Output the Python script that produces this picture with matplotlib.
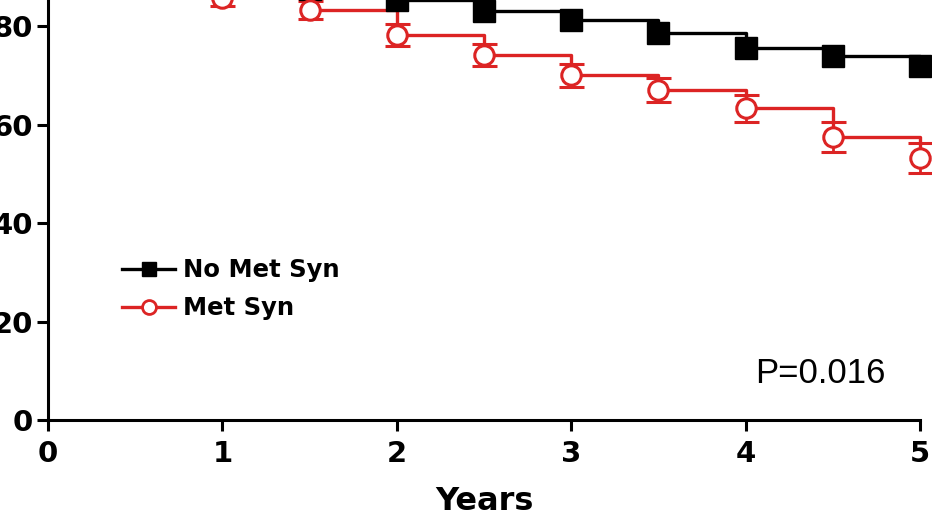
import matplotlib
matplotlib.use("Agg")
import matplotlib.pyplot as plt

# survival (%), every half year
times = [0, 0.5, 1, 1.5, 2, 2.5, 3, 3.5, 4, 4.5, 5]
no_met_syn = [100, 95, 90, 87.5, 85.2, 83.1, 81.2, 78.6, 75.6, 74.0, 71.9]
no_met_err = [0, 0.6, 0.8, 1.0, 1.2, 1.2, 1.3, 1.4, 1.5, 1.6, 1.7]
met_syn = [100, 94, 85.6, 83.2, 78.2, 74.1, 70.0, 67.0, 63.3, 57.5, 53.2]
met_err = [0, 1.2, 1.6, 1.8, 2.2, 2.2, 2.3, 2.5, 2.7, 3.0, 3.1]

x_ticks = [0, 1, 2, 3, 4, 5]
y_ticks = [0, 20, 40, 60, 80, 100]

RED = "#dc2424"

fig = plt.figure(figsize=(9.32, 5.11), dpi=100)
# axes runs past the top edge: the reference is cropped there
ax = fig.add_axes([48 / 932, 91 / 511, 872 / 932, 492.5 / 511])

# curves
ax.step(times, no_met_syn, where="post", color="black", lw=2.4, clip_on=False, zorder=3)
ax.step(times, met_syn, where="post", color=RED, lw=2.4, clip_on=False, zorder=2)

ax.errorbar(times, no_met_syn, yerr=no_met_err, fmt="s", color="black", ms=16,
            elinewidth=2, capsize=8, capthick=2, clip_on=False, zorder=4,
            label="No Met Syn")
ax.errorbar(times, met_syn, yerr=met_err, fmt="o", color=RED, mfc="white", mec=RED,
            ms=14, mew=2.2, elinewidth=2, capsize=9, capthick=2.2, clip_on=False,
            zorder=4, label="Met Syn")

# legend handles: line with marker
h1, = ax.plot([], [], "-s", color="black", lw=2.4, ms=10)
h2, = ax.plot([], [], "-o", color=RED, mfc="white", mec=RED, lw=2.4, ms=10, mew=2)
ax.legend([h1, h2], ["No Met Syn", "Met Syn"], loc="upper left",
          bbox_to_anchor=(122 / 932, 0.495), bbox_transform=fig.transFigure,
          frameon=False, borderpad=0, borderaxespad=0, handlelength=2.2,
          handletextpad=0.3, labelspacing=0.58,
          prop={"family": "DejaVu Sans", "weight": "bold", "size": 17.5})

ax.text(4.054, 7.5, "P=0.016", family="Liberation Sans", fontsize=25,
        ha="left", va="baseline")

ax.set_xlim(0, 5)
ax.set_ylim(0, 100)
ax.set_xticks(x_ticks)
ax.set_yticks(y_ticks)
ax.set_xticklabels([str(v) for v in x_ticks], family="DejaVu Sans", weight="bold", fontsize=21)
ax.set_yticklabels([str(v) for v in y_ticks], family="DejaVu Sans", weight="bold", fontsize=21)
ax.tick_params(axis="both", length=8, width=2.2, direction="out")
ax.tick_params(axis="x", pad=6.5)
ax.tick_params(axis="y", pad=3)

ax.set_xlabel("Years", family="DejaVu Sans", weight="bold", fontsize=23, labelpad=13)

for side in ["top", "right"]:
    ax.spines[side].set_visible(False)
for side in ["left", "bottom"]:
    ax.spines[side].set_linewidth(2.2)

fig.savefig("out.png", dpi=100)
